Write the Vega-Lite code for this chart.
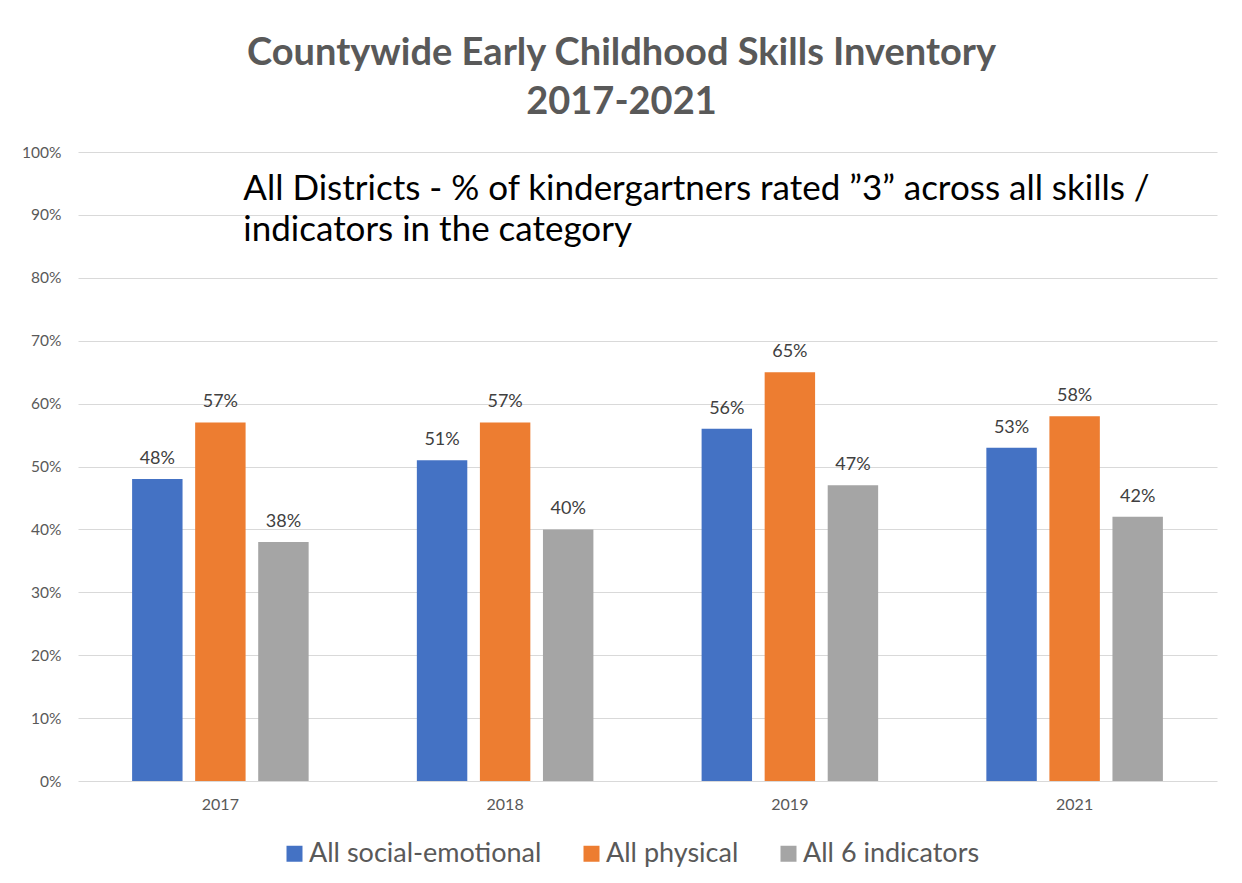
{
  "$schema": "https://vega.github.io/schema/vega-lite/v6.json",
  "width": 1139,
  "height": 629,
  "autosize": {"type": "none"},
  "padding": {"left": 78, "top": 152, "right": 25, "bottom": 102},
  "background": "white",
  "config": {"view": {"stroke": null}},
  "title": {
    "text": ["Countywide Early Childhood Skills Inventory", "2017-2021"],
    "font": "Lato",
    "fontSize": 38,
    "fontWeight": "bold",
    "color": "#595959",
    "anchor": "middle",
    "dx": -26,
    "offset": 23,
    "lineHeight": 49
  },
  "datasets": {
    "bars": [
      {"year": "2017", "series": "All social-emotional", "value": 0.48},
      {"year": "2017", "series": "All physical", "value": 0.57},
      {"year": "2017", "series": "All 6 indicators", "value": 0.38},
      {"year": "2018", "series": "All social-emotional", "value": 0.51},
      {"year": "2018", "series": "All physical", "value": 0.57},
      {"year": "2018", "series": "All 6 indicators", "value": 0.40},
      {"year": "2019", "series": "All social-emotional", "value": 0.56},
      {"year": "2019", "series": "All physical", "value": 0.65},
      {"year": "2019", "series": "All 6 indicators", "value": 0.47},
      {"year": "2021", "series": "All social-emotional", "value": 0.53},
      {"year": "2021", "series": "All physical", "value": 0.58},
      {"year": "2021", "series": "All 6 indicators", "value": 0.42}
    ],
    "note": [
      {"note": ["All Districts - % of kindergartners rated \u201d3\u201d across all skills /", "indicators in the category"]}
    ]
  },
  "layer": [
    {
      "data": {"name": "bars"},
      "mark": {"type": "bar"},
      "encoding": {
        "x": {
          "field": "year", "type": "nominal",
          "scale": {"paddingInner": 0.38, "paddingOuter": 0.19},
          "axis": {"title": null, "labelAngle": 0, "labelFont": "Lato", "labelFontSize": 16, "labelColor": "#595959", "labelPadding": 15, "ticks": false, "domain": false}
        },
        "xOffset": {
          "field": "series", "type": "nominal",
          "sort": ["All social-emotional", "All physical", "All 6 indicators"],
          "scale": {"paddingInner": 0.2, "paddingOuter": 0}
        },
        "y": {
          "field": "value", "type": "quantitative",
          "scale": {"domain": [0, 1]},
          "axis": {"title": null, "format": ".0%", "values": [0, 0.1, 0.2, 0.3, 0.4, 0.5, 0.6, 0.7, 0.8, 0.9, 1], "labelFont": "Lato", "labelFontSize": 15.5, "labelColor": "#595959", "labelPadding": 17, "ticks": false, "domain": false, "gridColor": "#d9d9d9", "gridWidth": 1.2}
        },
        "color": {
          "field": "series", "type": "nominal",
          "sort": ["All social-emotional", "All physical", "All 6 indicators"],
          "scale": {"domain": ["All social-emotional", "All physical", "All 6 indicators"], "range": ["#4472C4", "#ED7D31", "#A5A5A5"]},
          "legend": {"title": null, "orient": "none", "legendX": 203, "legendY": 688, "direction": "horizontal", "symbolType": "square", "symbolSize": 256, "symbolStrokeWidth": 0, "labelFont": "Lato", "labelFontSize": 27, "labelColor": "#595959", "labelOffset": 1, "columnPadding": 36, "labelLimit": 400, "padding": 0}
        }
      }
    },
    {
      "data": {"name": "bars"},
      "mark": {"type": "text", "baseline": "alphabetic", "dy": -15, "font": "Lato", "fontSize": 18, "color": "#404040"},
      "encoding": {
        "x": {"field": "year", "type": "nominal"},
        "xOffset": {"field": "series", "type": "nominal", "sort": ["All social-emotional", "All physical", "All 6 indicators"]},
        "y": {"field": "value", "type": "quantitative"},
        "text": {"field": "value", "type": "quantitative", "format": ".0%"}
      }
    },
    {
      "data": {"name": "note"},
      "mark": {"type": "text", "align": "left", "baseline": "alphabetic", "font": "Lato", "fontSize": 35, "lineHeight": 41, "color": "#000000"},
      "encoding": {
        "x": {"datum": "2017", "type": "nominal", "bandPosition": 0.63},
        "y": {"datum": 0.924, "type": "quantitative"},
        "text": {"field": "note"}
      }
    }
  ]
}
